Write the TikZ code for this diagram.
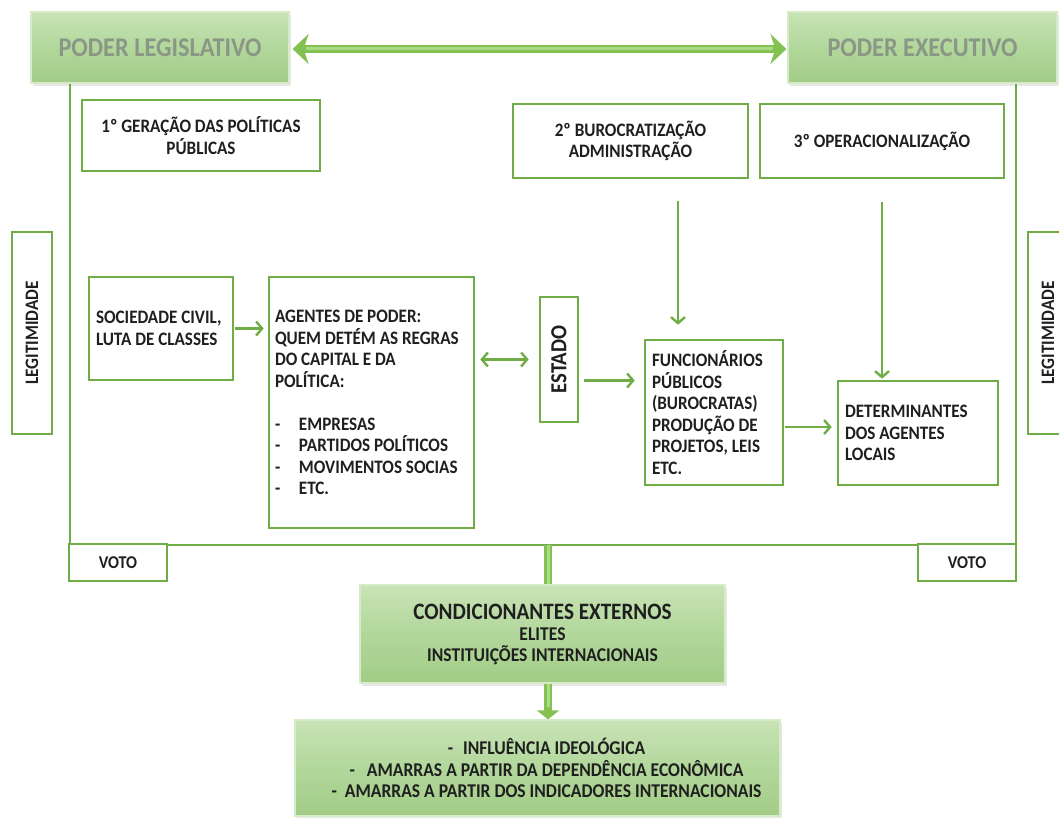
\documentclass[tikz,border=0pt]{standalone}
\usepackage{fontspec}
\usepackage{graphicx}
\setmainfont{Carlito}[FakeStretch=0.9]
\usetikzlibrary{arrows.meta,shadows}
\definecolor{gline}{HTML}{70AD47}
\definecolor{ptop}{HTML}{C8E3B6}
\definecolor{pmid}{HTML}{B2D79B}
\definecolor{pbot}{HTML}{A2CC86}
\definecolor{pedge}{HTML}{D6ECC8}
\definecolor{ptext}{HTML}{8A9686}
\definecolor{barc}{HTML}{84C153}
\definecolor{barh}{HTML}{A9DC85}
\tikzset{
  gbox/.style={draw=gline, line width=2.6pt, fill=white, inner sep=0pt,
    font=\bfseries\fontsize{19}{21.5}\selectfont, text=black!88},
  lbox/.style={gbox, align=flush left},
  cbox/.style={gbox, align=center},
  pbox/.style={top color=ptop, bottom color=pbot, middle color=pmid,
    draw=pedge, line width=1.2pt, inner sep=0pt,
    drop shadow={opacity=0.18, shadow xshift=1.5pt, shadow yshift=-2.5pt}},
  frame/.style={draw=gline, line width=2.6pt},
  garrow/.style={draw=gline, line width=2.4pt, -{Straight Barb[length=6pt,width=14pt]}},
  garrows/.style={draw=gline, line width=2.4pt, {Straight Barb[length=6pt,width=14pt]}-{Straight Barb[length=6pt,width=14pt]}},
  bigarrow/.style={draw=barc, line width=8pt, {Stealth[length=16pt,width=30pt,inset=5pt]}-{Stealth[length=16pt,width=30pt,inset=5pt]}},
  bighl/.style={draw=barh, line width=3pt},
  thickbar/.style={draw=barc, line width=8pt},
  thickarrow/.style={draw=barc, line width=8pt, -{Triangle[length=9pt,width=22pt]}},
  votobox/.style={cbox, minimum width=98, minimum height=37, font=\bfseries\fontsize{18}{20}\selectfont},
  legitbox/.style={cbox, minimum width=40, minimum height=202, font=\bfseries\fontsize{19}{21}\selectfont},
  powertext/.style={text=ptext, font=\bfseries\fontsize{27}{30}\selectfont},
}
\begin{document}
\begin{tikzpicture}[x=1pt,y=-1pt]
\useasboundingbox (0,0) rectangle (1059,817);

% Power boxes
\node[pbox, powertext, minimum width=258, minimum height=71] (leg) at (160,47.5) {PODER LEGISLATIVO};
\node[pbox, powertext, minimum width=269, minimum height=71] (exe) at (922.5,47.5) {PODER EXECUTIVO};

% top double arrow
\draw[bigarrow] ([xshift=3pt,yshift=-1.5pt]leg.east) -- ([xshift=-1pt,yshift=-1.5pt]exe.west);
\draw[bighl] ([xshift=16pt,yshift=-0.5pt]leg.east) -- ([xshift=-14pt,yshift=-0.5pt]exe.west);

% frame
\coordinate (fl) at (70,545);
\coordinate (fr) at (1016,545);
\draw[frame] (leg.south -| fl) -- (fl) -- (fr) -- (exe.south -| fr);

% VOTO boxes
\node[votobox] (voto1) at (118,562.5) {VOTO};
\node[votobox] (voto2) at (967,562.5) {VOTO};

% Legitimidade boxes
\node[legitbox] (leg1) at (32,333) {\rotatebox{90}{LEGITIMIDADE}};
\node[legitbox] (leg2) at (1048,333) {\rotatebox{90}{LEGITIMIDADE}};

% top stage boxes
\node[cbox, minimum width=238, minimum height=71] (g1) at (201,135.5) {1º GERAÇÃO DAS POLÍTICAS\\PÚBLICAS};
\node[cbox, minimum width=235, minimum height=74] (g2) at (630.5,141) {2º BUROCRATIZAÇÃO\\ADMINISTRAÇÃO};
\node[cbox, minimum width=244, minimum height=74] (g3) at (882,141) {3º OPERACIONALIZAÇÃO};

% middle row
\node[lbox, minimum width=144, minimum height=103, text width=130] (soc) at (161,328.5) {SOCIEDADE CIVIL,\\LUTA DE CLASSES};
\node[lbox, minimum width=205, minimum height=251, text width=193] (ag) at (371.5,402.5)
 {AGENTES DE PODER:\\QUEM DETÉM AS REGRAS\\DO CAPITAL E DA\\POLÍTICA:\\[21.5pt]
  \makebox[24pt][l]{-}EMPRESAS\\
  \makebox[24pt][l]{-}PARTIDOS POLÍTICOS\\
  \makebox[24pt][l]{-}MOVIMENTOS SOCIAS\\
  \makebox[24pt][l]{-}ETC.};
\node[cbox, minimum width=38, minimum height=125, font=\bfseries\fontsize{23}{25}\selectfont] (est) at (559,359.5) {\rotatebox{90}{ESTADO}};
\node[lbox, minimum width=138, minimum height=145, text width=124] (func) at (714,412.5)
 {FUNCIONÁRIOS\\PÚBLICOS\\(BUROCRATAS)\\PRODUÇÃO DE\\PROJETOS, LEIS\\ETC.};
\node[lbox, minimum width=160, minimum height=104, text width=146] (det) at (918,433)
 {DETERMINANTES\\DOS AGENTES\\LOCAIS};

% arrows
\draw[garrow, shorten <=1pt, shorten >=4pt] (soc.east) -- (soc.east -| ag.west);
\draw[garrows, shorten <=5pt, shorten >=10pt] (ag.east |- est.west) -- (est.west);
\draw[garrow, shorten <=5pt, shorten >=9pt] ([yshift=-21pt]est.east) -- ([yshift=-21pt]est.east -| func.west);
\draw[garrow, shorten <=1pt, shorten >=5pt] ([yshift=-14.5pt]func.east) -- ([yshift=-14.5pt]func.east -| det.west);
\coordinate (a2) at (678,201);
\draw[garrow, shorten >=14pt] (a2) -- (a2 |- func.north);
\draw[garrow, shorten >=24pt] ([yshift=-23pt]g3.south) -- ([yshift=-23pt]g3.south |- det.north);

% external conditions
\node[pbox, minimum width=365, minimum height=98, text=black!88, align=center,
  font=\bfseries\fontsize{19.5}{21}\selectfont] (cond) at (542.5,634)
 {{\fontsize{23.5}{24}\selectfont CONDICIONANTES EXTERNOS}\\ELITES\\INSTITUIÇÕES INTERNACIONAIS};
\node[pbox, minimum width=485, minimum height=96, text=black!88, align=center,
  font=\bfseries\fontsize{19.5}{21.5}\selectfont] (bot) at (537.5,768)
 {\hspace*{18pt}-\hspace{10pt}INFLUÊNCIA IDEOLÓGICA\\
  \hspace*{18pt}-\hspace{12pt}AMARRAS A PARTIR DA DEPENDÊNCIA ECONÔMICA\\
  \hspace*{18pt}-\hspace{8pt}AMARRAS A PARTIR DOS INDICADORES INTERNACIONAIS};

\draw[thickbar] (fl -| 548,0) -- ([xshift=5.5pt]cond.north);
\draw[bighl] (fl -| 548,0) -- ([xshift=5.5pt]cond.north);
\draw[thickarrow] ([xshift=5.5pt]cond.south) -- ([xshift=5.5pt]cond.south |- bot.north);
\draw[bighl] ([xshift=5.5pt]cond.south) -- ([xshift=5.5pt,yshift=12pt]cond.south |- bot.north);
\end{tikzpicture}
\end{document}
